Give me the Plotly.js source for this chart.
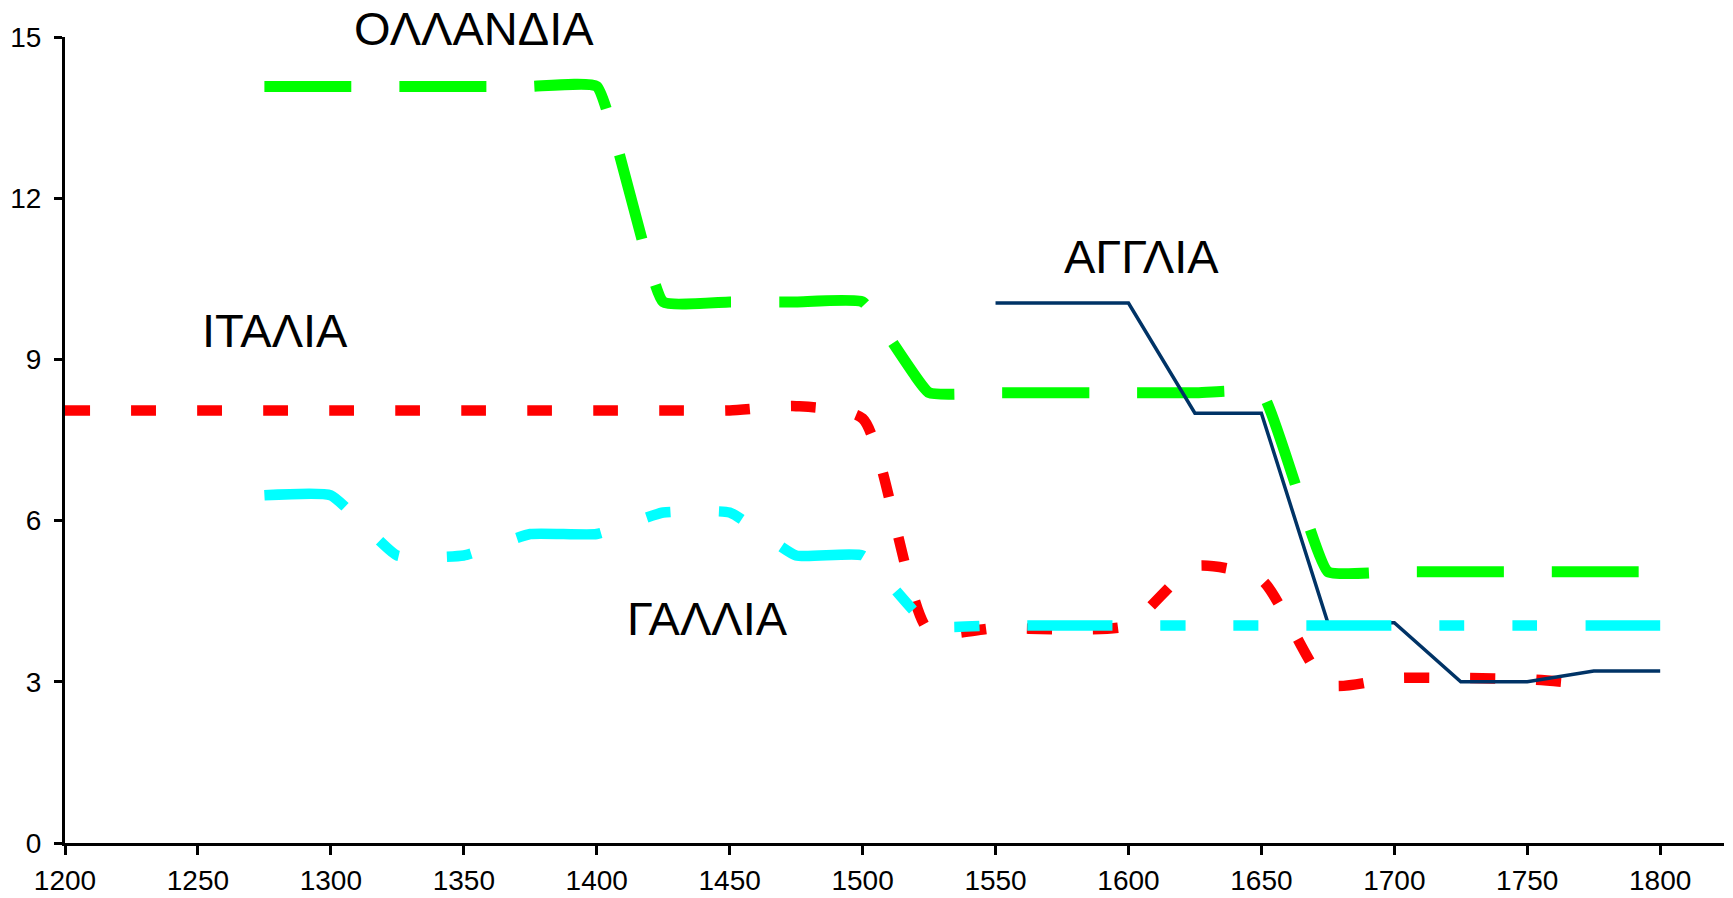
<!DOCTYPE html>
<html>
<head>
<meta charset="utf-8">
<script src="https://cdn.plot.ly/plotly-3.0.1.min.js"></script>
<style>
html, body { margin: 0; padding: 0; background: #ffffff; }
#chart { width: 1733px; height: 898px; }
</style>
</head>
<body>
<div id="chart"></div>
<script>
// Years and values
var italyYears = [1200,1225,1250,1275,1300,1325,1350,1375,1400,1425,1450,1475,1500,1525,1550,1575,1600,1625,1650,1675,1700,1725,1750,1775];
var italyValues = [8.05,8.05,8.05,8.05,8.05,8.05,8.05,8.05,8.05,8.05,8.05,8.13,7.9,3.95,4.0,3.98,4.05,5.15,4.9,2.95,3.07,3.07,3.05,2.95];

var hollandYears = [1275,1300,1325,1350,1375,1400,1425,1450,1475,1500,1525,1550,1575,1600,1625,1650,1675,1700,1725,1750,1775,1800];
var hollandValues = [14.08,14.08,14.08,14.08,14.08,14.08,10.07,10.07,10.07,10.07,8.38,8.38,8.38,8.38,8.38,8.38,5.05,5.05,5.05,5.05,5.05,5.05];

var englandYears = [1550,1575,1600,1625,1650,1675,1700,1725,1750,1775,1800];
var englandValues = [10.05,10.05,10.05,8.0,8.0,4.1,4.1,3.0,3.0,3.2,3.2];

var franceYears = [1275,1300,1325,1350,1375,1400,1425,1450,1475,1500,1525,1550,1575,1600,1625,1650,1675,1700,1725,1750,1775,1800];
var franceValues = [6.47,6.47,5.35,5.35,5.75,5.75,6.15,6.15,5.35,5.35,4.05,4.05,4.05,4.05,4.05,4.05,4.05,4.05,4.05,4.05,4.05,4.05];

var seriesNames = ["ΙΤΑΛΙΑ", "ΟΛΛΑΝΔΙΑ", "ΑΓΓΛΙΑ", "ΓΑΛΛΙΑ"];
var xTickVals = [1200,1250,1300,1350,1400,1450,1500,1550,1600,1650,1700,1750,1800];
var yTickVals = [0,3,6,9,12,15];

var FONT = "'Liberation Sans', Arial, sans-serif";

var traces = [
  {
    x: italyYears, y: italyValues, name: seriesNames[0], type: "scatter", mode: "lines",
    line: { color: "#ff0000", width: 10.5, dash: "25px,41px", shape: "spline", smoothing: 0.6 }
  },
  {
    x: hollandYears, y: hollandValues, name: seriesNames[1], type: "scatter", mode: "lines",
    line: { color: "#00ff00", width: 11, dash: "87px,48px", shape: "spline", smoothing: 0.35 }
  },
  {
    x: englandYears, y: englandValues, name: seriesNames[2], type: "scatter", mode: "lines",
    line: { color: "#003366", width: 3.5, shape: "linear" }
  },
  {
    x: franceYears, y: franceValues, name: seriesNames[3], type: "scatter", mode: "lines",
    line: { color: "#00ffff", width: 10.5, dash: "85px,48px,25px,48px,25px,48px", shape: "spline", smoothing: 0.4 }
  }
];

var annFont = { family: FONT, size: 47, color: "#000000" };

var layout = {
  width: 1733, height: 898,
  margin: { l: 65, r: 9, t: 37, b: 55 },
  paper_bgcolor: "#ffffff", plot_bgcolor: "#ffffff",
  showlegend: false,
  font: { family: FONT, color: "#000000" },
  xaxis: {
    range: [1200, 1824],
    tickvals: xTickVals,
    ticktext: xTickVals.map(String),
    showgrid: false, zeroline: false,
    showline: true, linecolor: "#000000", linewidth: 3,
    ticks: "outside", ticklen: 9, tickwidth: 3, tickcolor: "#000000",
    tickfont: { family: FONT, size: 28, color: "#000000" },
    ticklabelstandoff: 1
  },
  yaxis: {
    range: [0, 15],
    tickvals: yTickVals,
    ticktext: yTickVals.map(String),
    showgrid: false, zeroline: false,
    showline: true, linecolor: "#000000", linewidth: 3,
    ticks: "outside", ticklen: 8, tickwidth: 3, tickcolor: "#000000",
    tickfont: { family: FONT, size: 28, color: "#000000" },
    ticklabelstandoff: 7
  },
  annotations: [
    { text: seriesNames[1], x: 1354, y: 1.0103, xref: "x", yref: "paper", showarrow: false, xanchor: "center", yanchor: "middle", font: annFont },
    { text: seriesNames[0], x: 1279, y: 9.53, xref: "x", yref: "y", showarrow: false, xanchor: "center", yanchor: "middle", font: annFont },
    { text: seriesNames[2], x: 1605, y: 10.92, xref: "x", yref: "y", showarrow: false, xanchor: "center", yanchor: "middle", font: annFont },
    { text: seriesNames[3], x: 1441.5, y: 4.17, xref: "x", yref: "y", showarrow: false, xanchor: "center", yanchor: "middle", font: annFont }
  ]
};

Plotly.newPlot("chart", traces, layout, { displayModeBar: false, staticPlot: true });
</script>
</body>
</html>
